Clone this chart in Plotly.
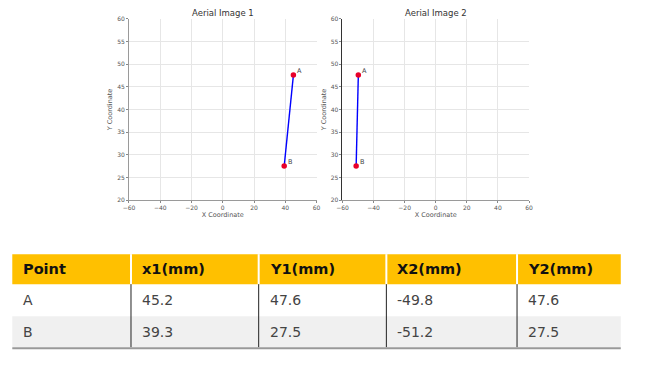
import plotly.graph_objects as go

W, H = 648, 368

points = ["A", "B"]
x1 = [45.2, 39.3]
y1 = [47.6, 27.5]
x2 = [-49.8, -51.2]
y2 = [47.6, 27.5]
titles = ["Aerial Image 1", "Aerial Image 2"]
headers = ["Point", "x1(mm)", "Y1(mm)", "X2(mm)", "Y2(mm)"]
xticks = [-60, -40, -20, 0, 20, 40, 60]
yticks = [20, 25, 30, 35, 40, 45, 50, 55, 60]


def px(v):
    v = (v - 4.7) / 0.987
    return v / W


def py(v):
    v = (v - 4.1) / 0.98
    return 1 - v / H


fig = go.Figure()

# scatter plots
for i, (xs, ys) in enumerate([(x1, y1), (x2, y2)]):
    ax = "" if i == 0 else str(i + 1)
    fig.add_trace(go.Scatter(
        x=xs, y=ys, mode="lines", line=dict(color="#0000ff", width=1.4),
        xaxis="x" + ax, yaxis="y" + ax, showlegend=False, hoverinfo="skip"))
    fig.add_trace(go.Scatter(
        x=xs, y=ys, mode="markers",
        marker=dict(color="#e8002a", size=5.5),
        xaxis="x" + ax, yaxis="y" + ax, showlegend=False, hoverinfo="skip"))
    for lbl, xv, yv in zip(points, xs, ys):
        fig.add_annotation(x=xv, y=yv, xref="x" + ax, yref="y" + ax, text=lbl,
                           showarrow=False, xanchor="left", yanchor="middle",
                           xshift=2, yshift=4,
                           font=dict(size=6.5, color="#444", family="DejaVu Sans"))

axis_common = dict(
    showgrid=True, gridcolor="#e6e6e6", gridwidth=0.6, zeroline=False,
    showline=True, ticks="outside", ticklen=2, tickcolor="#888",
    tickfont=dict(size=6, color="#555", family="DejaVu Sans"),
    title_font=dict(size=6.5, color="#555", family="DejaVu Sans"),
)

doms_x = [(128, 316), (342, 529)]
dom_y = (py(200), py(19))
spine_cols = ["#9a9a9a", "#333333"]
for i in range(2):
    sfx = "" if i == 0 else str(i + 1)
    fig.update_layout(**{
        "xaxis" + sfx: dict(axis_common, domain=[px(doms_x[i][0]), px(doms_x[i][1])],
                            range=[-60, 60], tickvals=xticks, anchor="y" + sfx,
                            linecolor="#9a9a9a", linewidth=1,
                            title=dict(text="X Coordinate", standoff=1)),
        "yaxis" + sfx: dict(axis_common, domain=list(dom_y), range=[20, 60],
                            tickvals=yticks, anchor="x" + sfx,
                            linecolor=spine_cols[i], linewidth=1,
                            title=dict(text="Y Coordinate", standoff=3)),
    })
    fig.add_annotation(x=px((doms_x[i][0] + doms_x[i][1]) / 2), y=py(13),
                       xref="paper", yref="paper", text=titles[i], showarrow=False,
                       font=dict(size=8.5, color="#333", family="DejaVu Sans"),
                       xanchor="center", yanchor="middle")

# table drawn with shapes & annotations
col_edges = [11, 130, 258, 386, 517, 621]
hdr_top, hdr_bot = 254, 284
row_edges = [284, 316, 347]
rows = [[points[k], f"{x1[k]}", f"{y1[k]}", f"{x2[k]}", f"{y2[k]}"] for k in range(2)]

shapes = []
shapes.append(dict(type="rect", xref="paper", yref="paper",
                   x0=px(col_edges[0]), x1=px(col_edges[-1]), y0=py(hdr_bot), y1=py(hdr_top),
                   fillcolor="#ffc000", line=dict(width=0), layer="below"))
shapes.append(dict(type="rect", xref="paper", yref="paper",
                   x0=px(col_edges[0]), x1=px(col_edges[-1]), y0=py(row_edges[2]), y1=py(row_edges[1]),
                   fillcolor="#f0f0f0", line=dict(width=0), layer="below"))
for c in col_edges[1:-1]:
    shapes.append(dict(type="line", xref="paper", yref="paper", x0=px(c), x1=px(c),
                       y0=py(hdr_bot), y1=py(hdr_top), line=dict(color="white", width=2)))
    shapes.append(dict(type="line", xref="paper", yref="paper", x0=px(c), x1=px(c),
                       y0=py(row_edges[2]), y1=py(hdr_bot), line=dict(color="#222", width=1)))
shapes.append(dict(type="line", xref="paper", yref="paper", x0=px(col_edges[0]), x1=px(col_edges[-1]),
                   y0=py(row_edges[2] + 1), y1=py(row_edges[2] + 1), line=dict(color="#999", width=2)))

for j, h in enumerate(headers):
    fig.add_annotation(x=px(col_edges[j] + 9), y=py((hdr_top + hdr_bot) / 2), xref="paper", yref="paper",
                       text="<b>" + h + "</b>", showarrow=False, xanchor="left", yanchor="middle",
                       font=dict(size=14.5, color="#111", family="DejaVu Sans"))
for r, row in enumerate(rows):
    for j, v in enumerate(row):
        fig.add_annotation(x=px(col_edges[j] + 9), y=py((row_edges[r] + row_edges[r + 1]) / 2),
                           xref="paper", yref="paper", text=v, showarrow=False,
                           xanchor="left", yanchor="middle",
                           font=dict(size=14, color="#444", family="DejaVu Sans"))

fig.update_layout(width=W, height=H, margin=dict(l=0, r=0, t=0, b=0),
                  paper_bgcolor="white", plot_bgcolor="white", shapes=shapes,
                  font=dict(family="DejaVu Sans"))

fig.write_html("out.html", config={"displayModeBar": False},
               post_script="document.body.style.margin='0px';document.body.style.overflow='hidden';")
